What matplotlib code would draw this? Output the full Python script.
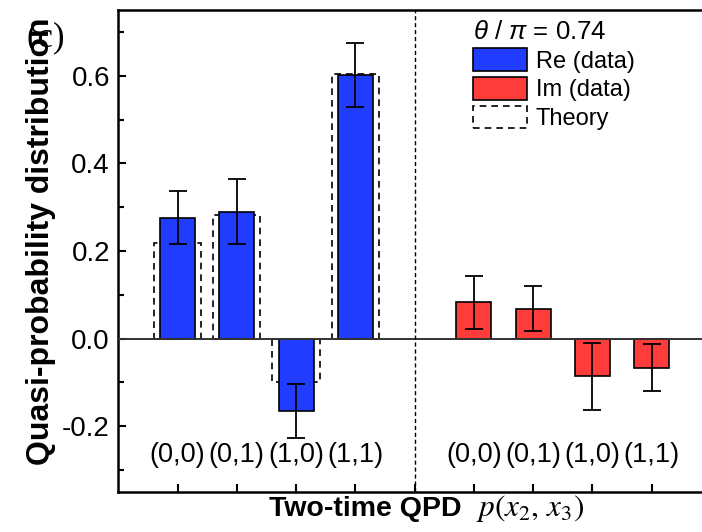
import numpy as np
import matplotlib
matplotlib.use("Agg")
from matplotlib import pyplot as plt
from matplotlib.patches import Patch
from matplotlib.ticker import MultipleLocator

####################################################

# Data

labels = ["(0,0)", "(0,1)", "(1,0)", "(1,1)"]
re_pos = [1, 2, 3, 4]
im_pos = [6, 7, 8, 9]

re_data = [0.276, 0.290, -0.165, 0.601]
re_err = [0.060, 0.074, 0.062, 0.073]
re_theory = [0.219, 0.282, -0.100, 0.603]

im_data = [0.083, 0.068, -0.086, -0.066]
im_err = [0.061, 0.051, 0.077, 0.053]

####################################################

plt.rcParams["font.family"] = ["Liberation Sans", "DejaVu Sans"]
plt.rcParams["mathtext.fontset"] = "custom"
plt.rcParams["mathtext.rm"] = "Liberation Sans"
plt.rcParams["mathtext.it"] = "Liberation Sans:italic"

blue = "#203CFF"
red = "#FF3C3C"

fig = plt.figure(figsize=(7.02, 5.32), dpi=100)
# axes runs past the right edge of the figure, like the cropped original
ax = fig.add_axes([0.1685, 0.0752, 0.844, 0.906])

ax.bar(re_pos, re_theory, width=0.80, fill=False, edgecolor="black",
       linestyle=(0, (4, 3)), linewidth=1.2, zorder=1)
ax.bar(re_pos, re_data, width=0.59, color=blue, edgecolor="black",
       linewidth=1.2, zorder=2)
ax.bar(im_pos, im_data, width=0.59, color=red, edgecolor="black",
       linewidth=1.2, zorder=2)

ax.errorbar(re_pos, re_data, yerr=re_err, fmt="none", ecolor="black",
            elinewidth=1.3, capsize=6.5, capthick=1.3, zorder=4)
ax.errorbar(im_pos, im_data, yerr=im_err, fmt="none", ecolor="black",
            elinewidth=1.3, capsize=6.5, capthick=1.3, zorder=4)

ax.axhline(0, color="#333333", linewidth=1.4, zorder=3)
ax.axvline(5, color="black", linewidth=1.0, linestyle=(0, (3, 2)), zorder=3)

for p, lab in zip(re_pos + im_pos, labels + labels):
    ax.text(p, -0.266, lab, ha="center", va="center", fontsize=19.5)

ax.set_xlim(0, 10)
ax.set_ylim(-0.35, 0.75)
ax.set_xticks(re_pos + [5] + im_pos)
ax.set_xticklabels([])
ax.yaxis.set_minor_locator(MultipleLocator(0.1))
ax.set_yticks([-0.2, 0.0, 0.2, 0.4, 0.6])
ax.set_yticklabels(["-0.2", "0.0", "0.2", "0.4", "0.6"])

ax.tick_params(axis="both", which="major", direction="in", length=6,
               width=1.5, labelsize=20, pad=6)
ax.tick_params(axis="y", which="minor", direction="in", length=4, width=1.5)
for s in ["left", "bottom", "top"]:
    ax.spines[s].set_linewidth(1.8)
ax.spines["right"].set_visible(False)

ax.set_ylabel("Quasi-probability distribution", fontsize=23, fontweight="bold")
ax.yaxis.set_label_coords(-0.105, 0.52)

# x label: bold sans part + serif italic part
ax.text(0.417, -0.05, "Two-time QPD", transform=ax.transAxes, ha="center",
        va="baseline", fontsize=20.5, fontweight="bold")
ax.text(0.604, -0.05, r"$p(x_2,\, x_3)$", transform=ax.transAxes, ha="left",
        va="baseline", fontsize=22.5, math_fontfamily="stix")

handles = [Patch(facecolor=blue, edgecolor="black", linewidth=1.2),
           Patch(facecolor=red, edgecolor="black", linewidth=1.2),
           Patch(fill=False, edgecolor="black", linestyle=(0, (4, 3)), linewidth=1.2)]
leg = ax.legend(handles, ["Re (data)", "Im (data)", "Theory"],
                title=r"$\theta$ / $\pi$ = 0.74", title_fontsize=18.5,
                fontsize=17, frameon=False, loc="upper left",
                bbox_to_anchor=(0.674, 0.962), bbox_transform=fig.transFigure,
                borderpad=0, handlelength=2.3, handleheight=1.1,
                handletextpad=0.35, labelspacing=0.18, borderaxespad=0,
                alignment="left")

fig.text(0.0655, 0.9286, "(c)", fontsize=25, family="Liberation Serif",
         ha="center", va="center")

fig.savefig("out.png", dpi=100)
